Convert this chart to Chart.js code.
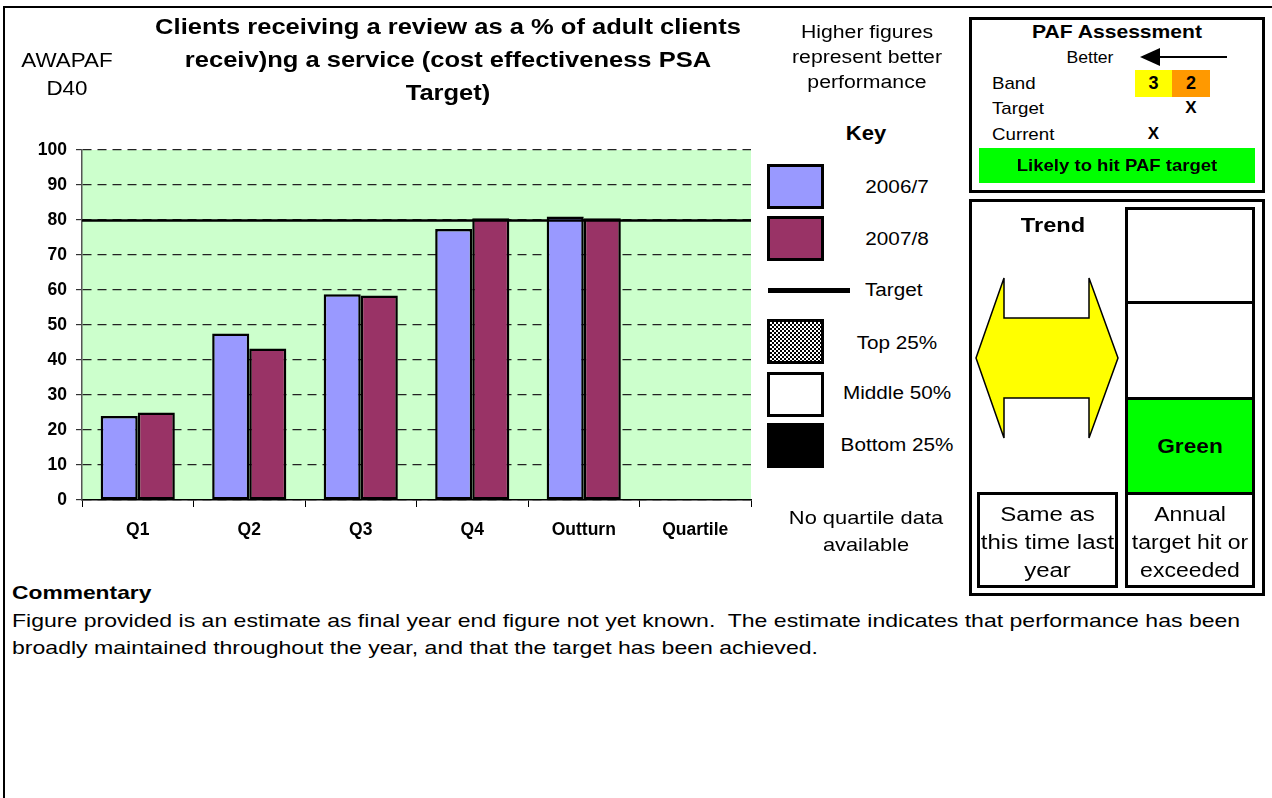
<!DOCTYPE html>
<html>
<head>
<meta charset="utf-8">
<script src="https://cdn.jsdelivr.net/npm/chart.js@4/dist/chart.umd.min.js"></script>
<style>
  html, body { margin: 0; padding: 0; background: #fff; }
  body { width: 1272px; height: 798px; position: relative; overflow: hidden;
         font-family: "Liberation Sans", Arial, Helvetica, sans-serif; color: #000; }
  .abs { position: absolute; }
  .c { text-align: center; white-space: nowrap; }
  .b { font-weight: bold; }
  .l { transform-origin: 0 50%; white-space: nowrap; }
  .box { position: absolute; box-sizing: border-box; border: 3px solid #000; background: #fff; }
  .t { display: block; }
  #chartWrap { position: absolute; left: 0; top: 0; width: 760px; height: 560px; }
</style>
</head>
<body>
<script>
// Quarterly figures (%) for each year; the last category holds no bars.
const categories = ['Q1', 'Q2', 'Q3', 'Q4', 'Outturn', 'Quartile'];
const values2006 = [24, 47.6, 58.8, 77.4, 81.0, null];
const values2007 = [25, 43.3, 58.4, 80.5, 80.5, null];
const targetValue = 80;
const yTickValues = [0, 10, 20, 30, 40, 50, 60, 70, 80, 90, 100];
const seriesNames = ['2006/7', '2007/8'];
const seriesColors = ['#9999FF', '#993366'];
</script>

<!-- page frame -->
<div class="abs" style="left:3px;top:6px;width:1269px;height:2px;background:#000"></div>
<div class="abs" style="left:3px;top:6px;width:1.5px;height:792px;background:#000"></div>

<div id="chartWrap"><canvas id="chart"></canvas></div>

<!-- heading -->
<div class="abs c" style="left:12px;width:110px;top:46px;font-size:20px;line-height:28px;transform:scaleX(1.12)">AWAPAF<br>D40</div>
<div class="abs c b" style="left:148px;width:600px;top:10px;font-size:22px;line-height:33px;transform:scaleX(1.16)">Clients receiving a review as a % of adult clients<br>receiv)ng a service (cost effectiveness PSA<br>Target)</div>
<div class="abs c" style="left:767px;width:200px;top:20px;font-size:18px;line-height:25px;transform:scaleX(1.18)">Higher figures<br>represent better<br>performance</div>

<!-- key -->
<div class="abs c b" style="left:816px;width:100px;top:121px;font-size:20px;line-height:24px;transform:scaleX(1.1)">Key</div>
<div id="key"></div>
<div class="abs c" style="left:766px;width:200px;top:504px;font-size:19px;line-height:27px;transform:scaleX(1.15)">No quartile data<br>available</div>

<!-- commentary -->
<div class="abs b l" style="left:12px;top:582px;font-size:19px;line-height:22px;transform:scaleX(1.2)">Commentary</div>
<div class="abs l" style="left:12px;top:607px;font-size:19px;line-height:27px;transform:scaleX(1.213)">Figure provided is an estimate as final year end figure not yet known.&nbsp; The estimate indicates that performance has been<br>broadly maintained throughout the year, and that the target has been achieved.</div>

<!-- PAF assessment panel -->
<div class="box" style="left:969px;top:17px;width:296px;height:176px"></div>
<div class="abs c b" style="left:1017px;width:200px;top:20px;font-size:19px;line-height:24px;transform:scaleX(1.11)">PAF Assessment</div>
<div class="abs c" style="left:1050px;width:80px;top:47px;font-size:16px;line-height:22px;transform:scaleX(1.1)">Better</div>
<svg class="abs" style="left:1130px;top:44px" width="110" height="28">
  <line x1="24" y1="13" x2="97" y2="13" stroke="#000" stroke-width="2"/>
  <polygon points="10,13 30,4 30,22" fill="#000"/>
</svg>
<div class="abs l" style="left:992px;top:73px;font-size:17px;line-height:22px;transform:scaleX(1.1)">Band</div>
<div class="abs l" style="left:992px;top:98px;font-size:17px;line-height:22px;transform:scaleX(1.1)">Target</div>
<div class="abs l" style="left:992px;top:124px;font-size:17px;line-height:22px;transform:scaleX(1.1)">Current</div>
<div class="abs c b" style="left:1135px;top:70px;width:37px;height:27px;background:#FFFF00;font-size:18px;line-height:27px">3</div>
<div class="abs c b" style="left:1172px;top:70px;width:38px;height:27px;background:#FF9900;font-size:18px;line-height:27px">2</div>
<div class="abs c b" style="left:1172px;top:97px;width:38px;font-size:17px;line-height:22px">X</div>
<div class="abs c b" style="left:1135px;top:123px;width:37px;font-size:17px;line-height:22px">X</div>
<div class="abs c b" style="left:979px;top:148px;width:276px;height:35px;background:#00FF00;font-size:17px;line-height:35px"><span class="t" style="transform:scaleX(1.09)">Likely to hit PAF target</span></div>

<!-- trend panel -->
<div class="box" style="left:969px;top:199px;width:296px;height:397px"></div>
<div class="abs c b" style="left:1003px;width:100px;top:212px;font-size:20px;line-height:26px;transform:scaleX(1.18)">Trend</div>
<svg class="abs" style="left:970px;top:270px" width="155" height="176">
  <polygon points="6,88 34,8 34,48 119,48 119,8 148,88 119,168 119,128 34,128 34,168"
           fill="#FFFF00" stroke="#000" stroke-width="1.5"/>
</svg>
<div class="box" style="left:1125px;top:207px;width:130px;height:97px"></div>
<div class="box" style="left:1125px;top:301px;width:130px;height:99px"></div>
<div class="box c b" style="left:1125px;top:397px;width:130px;height:98px;background:#00FF00;font-size:21px;line-height:92px"><span class="t" style="transform:scaleX(1.08)">Green</span></div>
<div class="box c" style="left:1125px;top:492px;width:130px;height:96px;font-size:20px;line-height:28px;padding-top:5px"><span class="t" style="transform:scaleX(1.15)">Annual<br>target hit or<br>exceeded</span></div>
<div class="box c" style="left:977px;top:492px;width:141px;height:96px;font-size:20px;line-height:28px;padding-top:5px"><span class="t" style="transform:scaleX(1.2)">Same as<br>this time last<br>year</span></div>

<script>
// Key entries built from the series definitions
(function () {
  const key = document.getElementById('key');
  const add = (html) => key.insertAdjacentHTML('beforeend', html);
  const sw = (top, style) =>
    add(`<div class="box" style="left:767px;top:${top}px;width:57px;height:45px;${style}"></div>`);
  const label = (top, text) =>
    add(`<div class="abs c" style="left:817px;width:160px;top:${top}px;font-size:18px;line-height:22px;transform:scaleX(1.15)">${text}</div>`);
  sw(164, `background:${seriesColors[0]}`);          label(176, seriesNames[0]);
  sw(216, `background:${seriesColors[1]}`);          label(228, seriesNames[1]);
  add('<div class="abs" style="left:768px;top:288px;width:82px;height:5px;background:#000"></div>');
  add('<div class="abs l" style="left:865px;top:279px;font-size:18px;line-height:22px;transform:scaleX(1.15)">Target</div>');
  sw(319, 'background-image:repeating-conic-gradient(#000 0 25%, #fff 0 50%);background-size:4px 4px');
  label(332, 'Top 25%');
  sw(372, 'background:#fff');                         label(382, 'Middle 50%');
  sw(423, 'background:#000');                         label(434, 'Bottom 25%');
})();

// Green plot background
const plotBackground = {
  id: 'plotBackground',
  beforeDraw(chart) {
    const { ctx, chartArea: a } = chart;
    ctx.save();
    ctx.fillStyle = '#CCFFCC';
    ctx.fillRect(a.left, a.top, a.right - a.left, a.bottom - a.top);
    ctx.restore();
  }
};

// Solid target line across the plot
const targetLine = {
  id: 'targetLine',
  afterDatasetsDraw(chart) {
    const { ctx, chartArea: a, scales: { y } } = chart;
    const py = Math.round(y.getPixelForValue(targetValue)) + 0.5;
    ctx.save();
    ctx.strokeStyle = '#000';
    ctx.lineWidth = 2.5;
    ctx.beginPath();
    ctx.moveTo(a.left, py);
    ctx.lineTo(a.right, py);
    ctx.stroke();
    ctx.restore();
  }
};

const tickFont = { family: '"Liberation Sans", Arial, sans-serif', size: 17.5, weight: 'bold' };

new Chart(document.getElementById('chart'), {
  type: 'bar',
  data: {
    labels: categories,
    datasets: [
      { label: seriesNames[0], data: values2006, backgroundColor: seriesColors[0],
        borderColor: '#000', borderWidth: 2.5, borderSkipped: false },
      { label: seriesNames[1], data: values2007, backgroundColor: seriesColors[1],
        borderColor: '#000', borderWidth: 2.5, borderSkipped: false }
    ]
  },
  options: {
    responsive: true,
    maintainAspectRatio: false,
    animation: false,
    layout: { padding: { left: 0, top: 150, right: 9, bottom: 0 } },
    datasets: { bar: { categoryPercentage: 0.665, barPercentage: 1.0 } },
    plugins: { legend: { display: false }, tooltip: { enabled: false }, title: { display: false } },
    scales: {
      x: {
        afterFit: (s) => { s.height = 60; },
        grid: { offset: true, drawOnChartArea: false, drawTicks: true, tickLength: 7,
                color: '#000', tickColor: '#000', lineWidth: 1 },
        border: { display: true, color: '#000', width: 1.5 },
        ticks: { font: tickFont, color: '#000', padding: 13, maxRotation: 0, autoSkip: false }
      },
      y: {
        min: 0, max: 100,
        afterFit: (s) => { s.width = 82; },
        afterBuildTicks: (s) => { s.ticks = yTickValues.map(v => ({ value: v })); },
        grid: { color: '#222', lineWidth: 1.2, drawTicks: true, tickLength: 6,
                tickColor: '#333', tickBorderDash: [] },
        border: { display: true, color: '#555', width: 1.5, dash: [9, 6] },
        ticks: { font: tickFont, color: '#000', padding: 9 }
      }
    }
  },
  plugins: [plotBackground, targetLine]
});
</script>
</body>
</html>
